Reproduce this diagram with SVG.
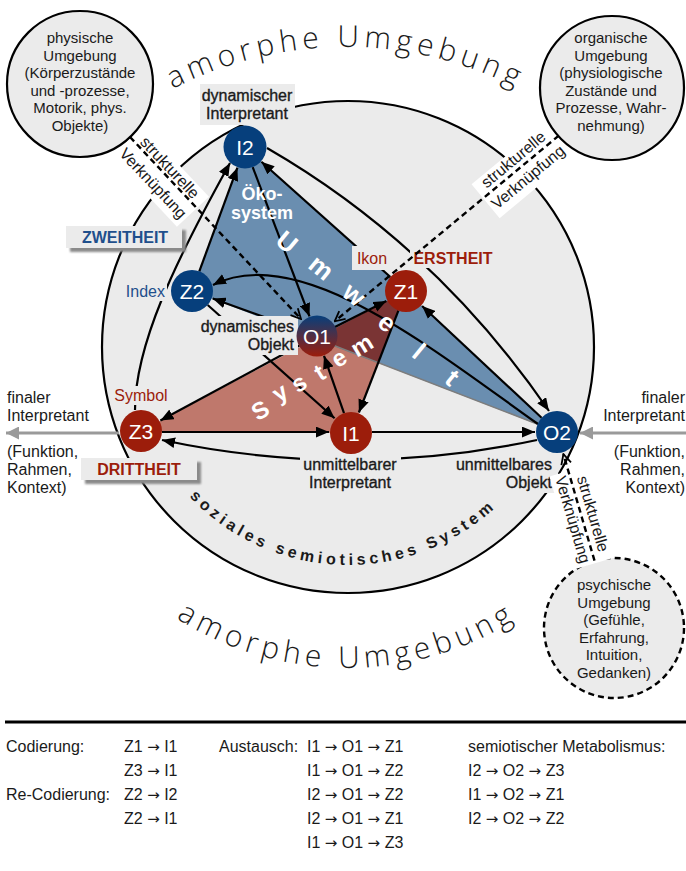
<svg xmlns="http://www.w3.org/2000/svg" width="686" height="871" viewBox="0 0 686 871">
<defs>
<style>
text{font-family:"Liberation Sans",Arial,sans-serif;}
.t{font-size:15px;fill:#1a1a1a;text-anchor:middle}
.lb{font-size:16px;fill:#1a1a1a}
.md{font-size:16px;fill:#1a1a1a;stroke:#1a1a1a;stroke-width:0.35}
.nt{font-size:21px;fill:#fff;text-anchor:middle}
.bg{fill:#ebebeb}
.ln{stroke:#000;stroke-width:2.2;fill:none;marker-end:url(#ah)}
.dl{stroke:#000;stroke-width:2.4;fill:none;stroke-dasharray:6 4;marker-end:url(#ch)}
.nb{fill:#063f7c}
.nr{fill:#9c1d0b}
.wl{font-size:26px;font-weight:bold;fill:#fff;text-anchor:middle}
.ws{font-size:24px;font-weight:bold;fill:#fff;text-anchor:middle}
.red{fill:#9c1d0b}
.blue{fill:#1f4f8c}
.am{font-family:"Open Sans","Lato",sans-serif;font-weight:300;font-size:30px;fill:#1a1a1a;letter-spacing:5px}
.lg{font-size:16px;fill:#1a1a1a}
.ar{font-family:"DejaVu Sans",sans-serif;font-size:15px}
</style>
<marker id="ah" viewBox="0 0 12 10" refX="12" refY="5" markerWidth="13" markerHeight="11" markerUnits="userSpaceOnUse" orient="auto"><path d="M0,0 L12,5 L0,10 z" fill="#000"/></marker>
<marker id="ch" viewBox="0 0 12 12" refX="11" refY="6" markerWidth="12" markerHeight="12" markerUnits="userSpaceOnUse" orient="auto"><path d="M1,1 L11,6 L1,11" fill="none" stroke="#000" stroke-width="1.8"/></marker>
<marker id="ga" viewBox="0 0 12 12" refX="12" refY="6" markerWidth="13" markerHeight="13" markerUnits="userSpaceOnUse" orient="auto"><path d="M0,0 L12,6 L0,12 z" fill="#9a9a9a"/></marker>
<linearGradient id="go" x1="0" y1="0" x2="0" y2="1"><stop offset="0" stop-color="#063f7c"/><stop offset="1" stop-color="#9c1d0b"/></linearGradient>
<filter id="sh" x="-10%" y="-20%" width="130%" height="170%"><feDropShadow dx="4" dy="4" stdDeviation="1.2" flood-color="#8a8a8a"/></filter>
<clipPath id="cb"><polygon points="245,147 406,291 557,432 192,291"/></clipPath>
<path id="arcTop" d="M-32,425 A378,378 0 0 1 724,425"/>
<path id="arcBot" d="M29,350 A318,318 0 0 0 665,350"/>
<path id="arcSoz" d="M130,347 A218,218 0 0 0 566,347"/>
</defs>

<rect width="686" height="871" fill="#fff"/>

<!-- environments -->
<g id="big-circle"><circle cx="348" cy="347" r="246" fill="#ebebeb" stroke="#000" stroke-width="2.2"/></g>
<g id="env-physisch">
<circle cx="80" cy="84" r="73" fill="#ebebeb" stroke="#000" stroke-width="2.2"/>
<text class="t" x="80" y="43">physische</text>
<text class="t" x="80" y="60.6">Umgebung</text>
<text class="t" x="80" y="78.2">(Körperzustände</text>
<text class="t" x="80" y="95.8">und -prozesse,</text>
<text class="t" x="80" y="113.4">Motorik, phys.</text>
<text class="t" x="80" y="131">Objekte)</text>
</g>
<g id="env-organisch">
<circle cx="612" cy="88" r="72" fill="#ebebeb" stroke="#000" stroke-width="2.2"/>
<text class="t" x="611" y="43">organische</text>
<text class="t" x="611" y="60.6">Umgebung</text>
<text class="t" x="611" y="78.2">(physiologische</text>
<text class="t" x="611" y="95.8">Zustände und</text>
<text class="t" x="611" y="113.4">Prozesse, Wahr-</text>
<text class="t" x="611" y="131">nehmung)</text>
</g>
<g id="env-psychisch">
<circle cx="614" cy="628" r="70" fill="#ebebeb" stroke="#000" stroke-width="2.4" stroke-dasharray="6 4"/>
<text class="t" x="614" y="590">psychische</text>
<text class="t" x="614" y="607.5">Umgebung</text>
<text class="t" x="614" y="625">(Gefühle,</text>
<text class="t" x="614" y="642.5">Erfahrung,</text>
<text class="t" x="614" y="660">Intuition,</text>
<text class="t" x="614" y="677.5">Gedanken)</text>
</g>

<text class="am"><textPath href="#arcTop" startOffset="50%" text-anchor="middle">amorphe Umgebung</textPath></text>
<text class="am"><textPath href="#arcBot" startOffset="50%" text-anchor="middle">amorphe Umgebung</textPath></text>
<text style="font-size:16px;font-weight:bold;letter-spacing:4px;fill:#1a1a1a"><textPath href="#arcSoz" startOffset="49%" text-anchor="middle">soziales semiotisches System</textPath></text>

<!-- triangles -->
<g id="areas">
<polygon points="245,147 406,291 557,432 192,291" fill="#6a8eb0"/>
<polygon points="141,431 406,291 351,433" fill="#bf786c"/>
<polygon points="141,431 406,291 351,433" fill="#7a3434" clip-path="url(#cb)"/>
<path d="M317,339 L545,427" stroke="#7d7d7d" stroke-width="1.6"/>
</g>

<!-- connectors -->
<g id="connectors">
<path class="ln" d="M199.3,271.3 L237.4,167.7"/>
<path class="ln" d="M135,410 C135,345 175,262 230,163"/>
<path class="ln" d="M252.7,167.1 L309.5,316.4"/>
<path class="ln" d="M390.4,277 L261.4,161.7"/>
<path class="ln" d="M267,148 Q435,245 549,411"/>
<path class="ln" d="M541.6,417.7 L422.1,306"/>
<path class="ln" d="M538,424 C440,355 300,240 213,285"/>
<path class="ln" d="M372,432 L535,432"/>
<path class="ln" d="M537,440 Q350,480 162,440"/>
<path class="ln" d="M162,432 L329,432"/>
<path class="ln" d="M398.4,310.6 L358.9,412.5"/>
<path class="ln" d="M344,413.2 L324,355.8"/>
<path class="ln" d="M334.9,327 L386.4,300.9"/>
<path class="ln" d="M298.2,329.2 L212.7,298.5"/>
<path class="ln" d="M299.4,345.5 L160.4,420.5"/>
<path class="ln" d="M207.7,305 L334.6,418.3"/>
<path d="M119,433 L6,433" stroke="#9a9a9a" stroke-width="3" fill="none" marker-end="url(#ga)"/>
<path d="M686,433 L580,433" stroke="#9a9a9a" stroke-width="3" fill="none" marker-end="url(#ga)"/>
</g>

<!-- labels -->
<g id="labels">
<rect class="bg" x="200" y="84" width="95" height="41"/>
<text class="md" x="247" y="101" text-anchor="middle">dynamischer</text>
<text class="md" x="247" y="119" text-anchor="middle">Interpretant</text>
<rect class="bg" x="127" y="280" width="40" height="21"/>
<text class="lb blue" x="165" y="297" text-anchor="end">Index</text>
<rect class="bg" x="352" y="246" width="40" height="24"/>
<text class="lb red" x="372" y="264" text-anchor="middle">Ikon</text>
<rect class="bg" x="410" y="248" width="87" height="20"/>
<text class="lb red" x="453" y="264" text-anchor="middle" font-weight="bold">ERSTHEIT</text>
<rect class="bg" x="112" y="386" width="56" height="19"/>
<text class="lb red" x="141" y="401" text-anchor="middle">Symbol</text>
<rect class="bg" x="201" y="316" width="97" height="39"/>
<text class="md" x="294" y="332" text-anchor="end">dynamisches</text>
<text class="md" x="294" y="350" text-anchor="end">Objekt</text>
<rect class="bg" x="300" y="455" width="101" height="38"/>
<text class="md" x="350" y="470" text-anchor="middle">unmittelbarer</text>
<text class="md" x="350" y="488" text-anchor="middle">Interpretant</text>
<rect class="bg" x="451" y="455" width="107" height="38"/>
<text class="md" x="552" y="470" text-anchor="end">unmittelbares</text>
<text class="md" x="552" y="488" text-anchor="end">Objekt</text>
<rect class="bg" x="66" y="226" width="116" height="22" filter="url(#sh)"/>
<text class="lb blue" x="125" y="243" text-anchor="middle" font-weight="bold">ZWEITHEIT</text>
<rect class="bg" x="81" y="458" width="116" height="22" filter="url(#sh)"/>
<text class="lb red" x="139" y="475" text-anchor="middle" font-weight="bold">DRITTHEIT</text>
<text class="lb" x="7" y="403">finaler</text>
<text class="lb" x="7" y="421">Interpretant</text>
<text class="lb" x="7" y="457">(Funktion,</text>
<text class="lb" x="7" y="475">Rahmen,</text>
<text class="lb" x="7" y="493">Kontext)</text>
<text class="lb" x="685" y="403" text-anchor="end">finaler</text>
<text class="lb" x="685" y="421" text-anchor="end">Interpretant</text>
<text class="lb" x="685" y="457" text-anchor="end">(Funktion,</text>
<text class="lb" x="685" y="475" text-anchor="end">Rahmen,</text>
<text class="lb" x="685" y="493" text-anchor="end">Kontext)</text>
</g>

<!-- structural couplings -->
<g id="couplings">
<g transform="translate(163,174) rotate(46.8)"><rect x="-48" y="-18" width="96" height="44" fill="#fff"/></g>
<g transform="translate(520,167.5) rotate(-39.7)"><rect x="-48" y="-18" width="96" height="44" fill="#fff"/></g>
<g transform="translate(582,517) rotate(73.8)"><rect x="-48" y="-20" width="96" height="40" fill="#fff"/></g>
<path class="dl" d="M130,137 L301,319"/>
<path class="dl" d="M558.8,135.6 L334.7,321.3"/>
<path class="dl" d="M594.5,560.7 L563.4,454.1"/>
<g transform="translate(163,174) rotate(46.8)">
<text class="lb" x="0" y="-4" text-anchor="middle">strukturelle</text>
<text class="lb" x="0" y="19" text-anchor="middle">Verknüpfung</text>
</g>
<g transform="translate(520,167.5) rotate(-39.7)">
<text class="lb" x="0" y="-5" text-anchor="middle">strukturelle</text>
<text class="lb" x="0" y="18" text-anchor="middle">Verknüpfung</text>
</g>
<g transform="translate(582,517) rotate(73.8)">
<text class="lb" x="0" y="-6" text-anchor="middle">strukturelle</text>
<text class="lb" x="0" y="15" text-anchor="middle">Verknüpfung</text>
</g>
</g>

<!-- nodes -->
<g id="node-I2"><circle class="nb" cx="245" cy="147" r="21.5"/><text class="nt" x="245" y="154.5">I2</text></g>
<g id="node-Z2"><circle class="nb" cx="192" cy="291" r="21"/><text class="nt" x="192" y="298.5">Z2</text></g>
<g id="node-Z1"><circle class="nr" cx="406" cy="291" r="21"/><text class="nt" x="406" y="298.5">Z1</text></g>
<g id="node-O1"><circle fill="url(#go)" cx="317" cy="336" r="20.5"/><text class="nt" x="317" y="343.5">O1</text></g>
<g id="node-Z3"><circle class="nr" cx="141" cy="431" r="21"/><text class="nt" x="141" y="438.5">Z3</text></g>
<g id="node-I1"><circle class="nr" cx="351" cy="433" r="21"/><text class="nt" x="351" y="440.5">I1</text></g>
<g id="node-O2"><circle class="nb" cx="557" cy="432" r="21"/><text class="nt" x="557" y="439.5">O2</text></g>

<!-- area texts -->
<g id="area-texts">
<text x="262" y="200" style="font-size:18px;font-weight:bold;fill:#fff" text-anchor="middle">Öko-</text>
<text x="262" y="219" style="font-size:18px;font-weight:bold;fill:#fff" text-anchor="middle">system</text>
<text class="wl" transform="translate(287,242) rotate(39.5)" y="9">U</text>
<text class="wl" transform="translate(320,269) rotate(39.5)" y="7">m</text>
<text class="wl" transform="translate(353,296) rotate(39.5)" y="7">w</text>
<text class="wl" transform="translate(386,324) rotate(39.5)" y="7">e</text>
<text class="wl" transform="translate(419,351) rotate(39.5)" y="9">l</text>
<text class="wl" transform="translate(452,378) rotate(39.5)" y="8.5">t</text>
<text class="ws" transform="translate(260,410) rotate(-31.5)" y="8.6">S</text>
<text class="ws" transform="translate(282,396) rotate(-31.5)" y="4">y</text>
<text class="ws" transform="translate(300,385) rotate(-31.5)" y="6">s</text>
<text class="ws" transform="translate(320,373) rotate(-31.5)" y="7.5">t</text>
<text class="ws" transform="translate(340,360) rotate(-31.5)" y="6">e</text>
<text class="ws" transform="translate(363,347) rotate(-31.5)" y="6">m</text>
</g>

<!-- legend -->
<g id="legend" xml:space="preserve">
<path d="M5,722 H686" stroke="#000" stroke-width="3"/>
<text class="lg" x="6" y="752">Codierung:</text>
<text class="lg" x="124" y="752">Z1 <tspan class="ar">→</tspan> I1</text>
<text class="lg" x="124" y="776">Z3 <tspan class="ar">→</tspan> I1</text>
<text class="lg" x="6" y="800">Re-Codierung:</text>
<text class="lg" x="124" y="800">Z2 <tspan class="ar">→</tspan> I2</text>
<text class="lg" x="124" y="824">Z2 <tspan class="ar">→</tspan> I1</text>
<text class="lg" x="219" y="752">Austausch:</text>
<text class="lg" x="307" y="752">I1 <tspan class="ar">→</tspan> O1 <tspan class="ar">→</tspan> Z1</text>
<text class="lg" x="307" y="776">I1 <tspan class="ar">→</tspan> O1 <tspan class="ar">→</tspan> Z2</text>
<text class="lg" x="307" y="800">I2 <tspan class="ar">→</tspan> O1 <tspan class="ar">→</tspan> Z2</text>
<text class="lg" x="307" y="824">I2 <tspan class="ar">→</tspan> O1 <tspan class="ar">→</tspan> Z1</text>
<text class="lg" x="307" y="848">I1 <tspan class="ar">→</tspan> O1 <tspan class="ar">→</tspan> Z3</text>
<text class="lg" x="468" y="752">semiotischer Metabolismus:</text>
<text class="lg" x="468" y="776">I2  <tspan class="ar">→</tspan> O2 <tspan class="ar">→</tspan> Z3</text>
<text class="lg" x="468" y="800">I1  <tspan class="ar">→</tspan> O2 <tspan class="ar">→</tspan> Z1</text>
<text class="lg" x="468" y="824">I2  <tspan class="ar">→</tspan> O2 <tspan class="ar">→</tspan> Z2</text>
</g>
</svg>
